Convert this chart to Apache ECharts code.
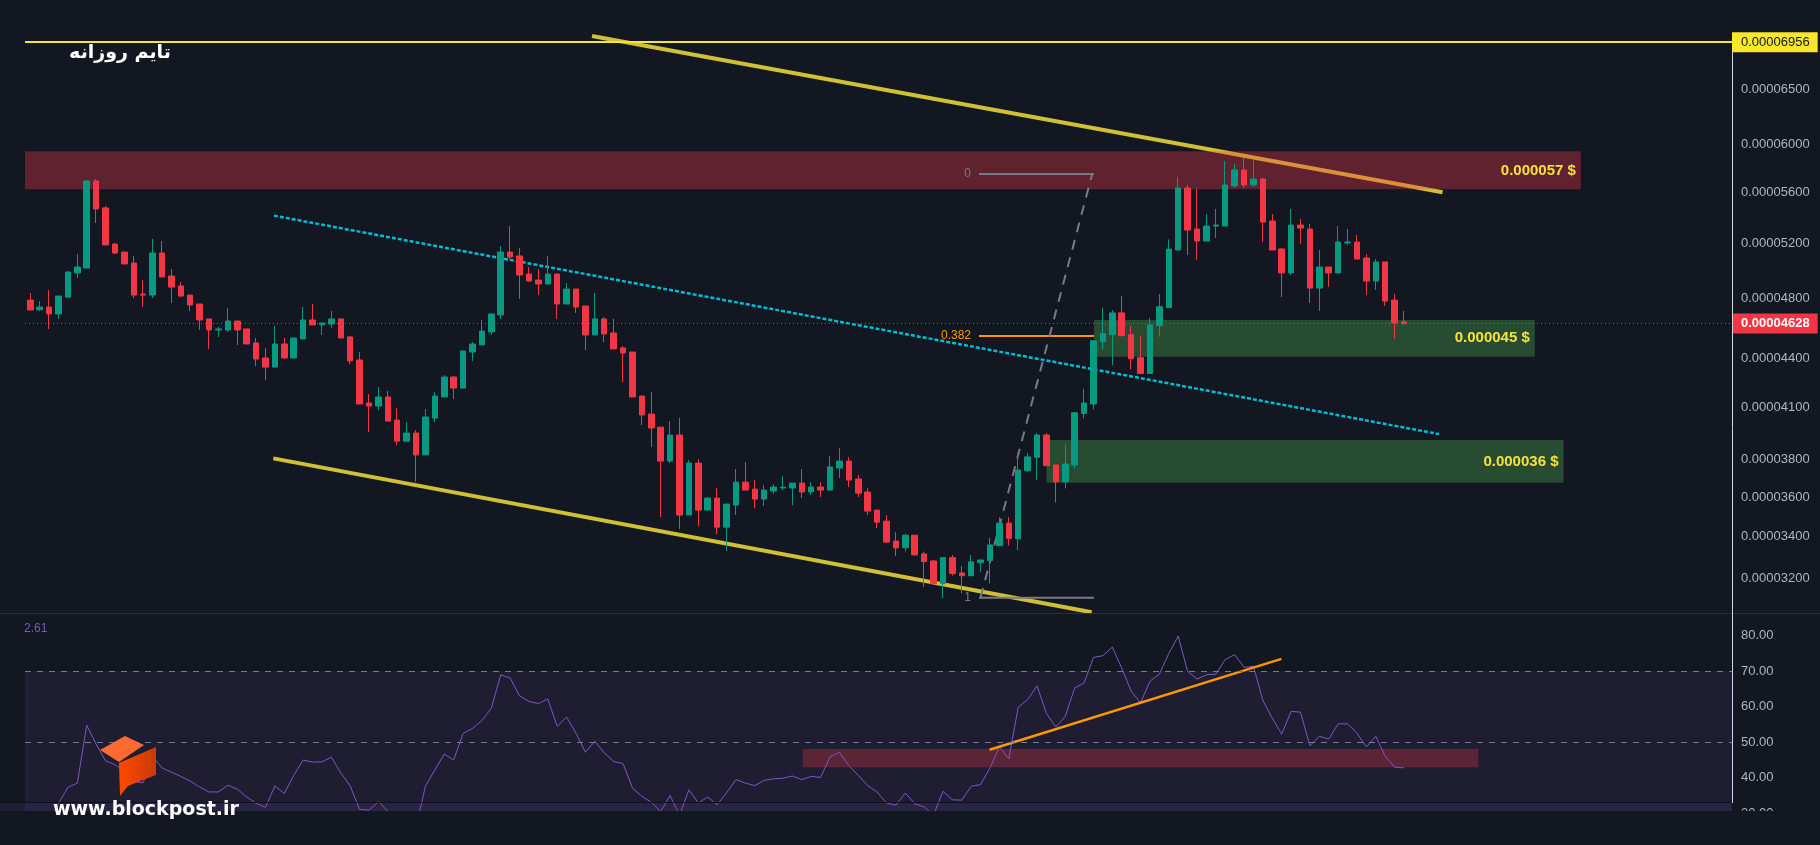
<!DOCTYPE html>
<html>
<head>
<meta charset="utf-8">
<title>تایم روزانه</title>
<style>
  html, body { margin: 0; padding: 0; background: #131722; }
  #main { width: 1820px; height: 845px; }
</style>
</head>
<body>
<div id="main"></div>
<script src="https://cdn.jsdelivr.net/npm/echarts@6.0.0/dist/echarts.min.js"></script>
<script>
// daily candles, prices in units of 1e-8
var openP = [4788,4722,4740,4693,4809,4980,5015,5690,5472,5193,
  5133,5052,4830,4823,5126,4958,4887,4823,4761,4659,
  4585,4585,4645,4592,4500,4403,4345,4493,4403,4526,
  4652,4619,4625,4659,4539,4390,4125,4107,4161,4024,
  3903,3949,3826,4036,4161,4283,4215,4441,4487,4572,
  4686,5133,5104,4972,4929,4901,4972,4761,4865,4747,
  4552,4659,4565,4467,4441,4167,4059,3983,3792,3938,
  3507,3781,3532,3594,3446,3558,3678,3641,3589,3631,
  3647,3647,3673,3626,3652,3636,3754,3792,3695,3626,
  3532,3476,3377,3345,3406,3315,3281,3175,3297,3225,
  3212,3273,3283,3355,3466,3388,3739,3813,3938,3771,
  3680,3771,4063,4119,4508,4554,4700,4554,4405,4305,
  4614,4736,5148,5632,5307,5216,5330,5330,5649,5781,
  5657,5706,5369,5156,4980,5338,5307,4872,5023,4980,
  5201,5208,5089,4922,5060,4788,4639];
var closeP = [4720,4740,4693,4816,4987,5023,5690,5464,5186,5126,
  5045,4823,4823,5126,4951,4879,4816,4754,4652,4585,
  4592,4645,4585,4493,4396,4345,4493,4403,4532,4652,
  4619,4632,4659,4532,4384,4119,4107,4161,4018,3903,
  3949,3826,4042,4167,4283,4215,4448,4493,4578,4693,
  5133,5096,4965,4922,4901,4972,4761,4865,4740,4552,
  4659,4559,4461,4435,4161,4054,3978,3792,3938,3507,
  3781,3532,3594,3446,3563,3678,3636,3589,3636,3652,
  3652,3673,3626,3652,3636,3760,3792,3689,3620,3527,
  3471,3372,3344,3406,3310,3278,3175,3297,3222,3212,
  3277,3286,3358,3466,3390,3743,3815,3938,3767,3680,
  3776,4067,4125,4514,4561,4700,4548,4398,4305,4619,
  4742,5155,5632,5299,5216,5330,5338,5657,5781,5657,
  5706,5361,5148,4980,5338,5315,4872,5023,4980,5208,
  5208,5081,4922,5060,4781,4632,4628];
var lowP = [4720,4713,4592,4659,4809,4943,5015,5354,5186,5118,
  5045,4802,4740,4802,4951,4768,4809,4713,4585,4461,
  4539,4572,4487,4493,4352,4264,4345,4396,4403,4526,
  4619,4552,4599,4532,4364,4119,3955,4083,4018,3881,
  3903,3678,3826,4012,4161,4149,4215,4384,4487,4552,
  4659,5081,4795,4915,4823,4901,4659,4761,4700,4454,
  4552,4506,4461,4252,4161,3995,3870,3496,3781,3436,
  3507,3451,3532,3411,3329,3507,3636,3542,3553,3615,
  3636,3558,3594,3610,3600,3636,3700,3652,3600,3507,
  3441,3372,3305,3326,3310,3160,3175,3109,3212,3131,
  3209,3230,3175,3355,3355,3333,3734,3691,3767,3572,
  3645,3752,4034,4087,4454,4358,4541,4330,4305,4305,
  4541,4736,5148,5111,5074,5216,5238,5330,5632,5632,
  5641,5208,5148,4809,4965,5193,4768,4713,4879,4980,
  5186,5081,4823,4858,4747,4526,4619];
var highP = [4837,4781,4858,4816,4994,5118,5698,5706,5488,5201,
  5133,5104,4929,5231,5216,5008,4915,4823,4761,4659,
  4605,4734,4645,4592,4532,4467,4612,4532,4532,4740,
  4761,4632,4713,4659,4545,4441,4179,4221,4197,4095,
  4012,3966,4089,4191,4295,4289,4448,4506,4652,4693,
  5178,5330,5163,5023,5008,5104,4972,4908,4865,4747,
  4837,4672,4659,4480,4441,4167,4191,3983,4018,4036,
  3798,3803,3600,3647,3563,3749,3787,3689,3662,3668,
  3711,3673,3749,3678,3678,3820,3864,3814,3716,3647,
  3532,3507,3421,3413,3406,3326,3287,3297,3310,3258,
  3310,3287,3393,3496,3496,3836,3836,3949,3949,3771,
  3887,4067,4211,4514,4736,4720,4816,4612,4545,4665,
  4830,5228,5720,5657,5624,5424,5464,5857,5832,5891,
  5866,5715,5424,5163,5464,5385,5346,5148,5023,5330,
  5307,5261,5118,5081,5060,4830,4713];
var rsiVals = [29,29,27,32.8,37.3,38.5,54.8,49.5,44.8,43.7,
  42,38.9,38.6,46,42.8,41.6,40.4,39.1,37.4,36,
  36,37.9,36.8,34.6,32.8,31.7,37.7,35.6,40.7,45,
  44.4,44.5,45.8,41.4,37.7,31.1,30.9,33.3,30.6,27,
  29,26,37.7,42.2,46.7,45,52.5,53.9,56.1,59.6,
  69,68.1,63.1,61.5,60.9,62.2,54.5,57.1,52.6,47.2,
  50.3,47,44.6,44,37.1,34.8,33.1,30.5,35,29.5,
  36.6,32.9,34.6,32.4,35.8,39.5,38.5,37.8,39.3,39.7,
  39.9,40.5,39.5,40.4,40.1,45.9,47.2,43.4,40.7,37.8,
  36,32.9,32.3,35.7,32.7,31.8,29.5,36.2,33.8,33.7,
  37.6,38.1,42.8,48.7,45.3,59.9,62,65.9,58.1,54.3,
  57.3,65.3,66.7,73.9,74.4,76.8,70.9,64.4,61.1,67.2,
  69.2,75,79.9,70,67.8,69,69.2,73.3,74.7,71.1,
  71.4,61.8,56.8,52.3,58.7,58.5,49,51.7,50.9,55.2,
  55.2,52.6,48.7,51.7,46.1,43,42.8];

var priceTicks = [3200,3400,3600,3800,4100,4400,4800,5200,5600,6000,6500];
var rsiTicks = [30,40,50,60,70,80];
var highLine = 6956;
var lastPrice = 4628;

// zones [low, high] and fib levels
var zoneRed = [5621, 5939];
var zoneGreen1 = [4411, 4652];
var zoneGreen2 = [3675, 3909];
var fibLevels = [5748, 4546, 3111];

var xMin = -0.56, xMax = 180.86;
var candles = openP.map(function (o, i) { return [i, o, closeP[i], lowP[i], highP[i]]; });
var rsiData = rsiVals.map(function (v, i) { return [i, v]; });

function fmt(v) { return '0.0000' + v; }

function seg(points, color, width, type, z, gi) {
  return {
    type: 'line', xAxisIndex: gi || 0, yAxisIndex: gi || 0, z: z,
    symbol: 'circle', symbolSize: 0, silent: true,
    data: points,
    lineStyle: { color: color, width: width, type: type }
  };
}

function fibPoint(x, y, text, color) {
  return { value: [x, y], label: { show: true, formatter: text, position: 'left', distance: 8, color: color, fontSize: 12 } };
}

var zoneLabel = { show: true, position: 'insideRight', distance: 5, color: '#f5e23c', fontWeight: 'bold', fontSize: 15, fontFamily: 'Liberation Sans' };

var myChart = echarts.init(document.getElementById('main'));

var option = {
  backgroundColor: '#131722',
  animation: false,
  textStyle: { fontFamily: 'Liberation Sans' },
  grid: [
    { left: 25, right: 88, top: 0, height: 613 },
    { left: 25, right: 88, top: 613, height: 232 }
  ],
  xAxis: [
    { gridIndex: 0, type: 'value', min: xMin, max: xMax, show: false },
    { gridIndex: 1, type: 'value', min: xMin, max: xMax, show: false }
  ],
  yAxis: [
    { gridIndex: 0, type: 'log', logBase: 10, min: 3043, max: 7395, position: 'right',
      axisLine: { show: false }, axisTick: { show: false }, axisLabel: { show: false }, splitLine: { show: false } },
    { gridIndex: 1, type: 'value', min: 21.07, max: 86.42, position: 'right',
      axisLine: { show: false }, axisTick: { show: false }, splitLine: { show: false },
      axisLabel: { customValues: rsiTicks, formatter: function (v) { return v.toFixed(2); },
        color: '#b2b5be', fontSize: 13, margin: 9 } }
  ],
  graphic: [
    { type: 'rect', shape: { x: 0, y: 803, width: 1732, height: 8 }, style: { fill: '#1f1f33' }, z: 0 },
    { type: 'line', shape: { x1: 0, y1: 613.5, x2: 1820, y2: 613.5 }, style: { stroke: '#2a2e39', lineWidth: 1 }, z: 10 },
    { type: 'line', shape: { x1: 0, y1: 802.5, x2: 1732, y2: 802.5 }, style: { stroke: '#0e1017', lineWidth: 1 }, z: 10 },
    { type: 'line', shape: { x1: 1732.5, y1: 52, x2: 1732.5, y2: 803 }, style: { stroke: '#d1d4dc', lineWidth: 1 }, z: 10 },
    { type: 'rect', shape: { x: 0, y: 811, width: 1820, height: 34 }, style: { fill: '#131722' }, z: 100 },
    { type: 'text', x: 120, y: 53, z: 101,
      style: { text: 'تایم روزانه', fill: '#ffffff', font: 'bold 19px "DejaVu Sans"', align: 'center', verticalAlign: 'middle' } },
    { type: 'text', x: 24, y: 629, z: 101,
      style: { text: '2.61', fill: '#7e57c2', font: '12px "Liberation Sans"', verticalAlign: 'middle' } },
    { type: 'polygon', z: 101, shape: { points: [[100, 750], [125, 736], [144, 745], [119, 762]] },
      style: { fill: '#ff6b2e' } },
    { type: 'polygon', z: 101, shape: { points: [[119, 763], [156, 747], [156, 775], [128, 786], [120, 796]] },
      style: { fill: new echarts.graphic.LinearGradient(0, 0, 1, 0, [{ offset: 0, color: '#ff4a00' }, { offset: 1, color: '#c93a04' }]) } },
    { type: 'text', x: 53, y: 810, z: 101,
      style: { text: 'www.blockpost.ir', fill: '#ffffff', font: 'bold 19px "DejaVu Sans"', verticalAlign: 'middle',
        shadowColor: 'rgba(120,120,120,0.8)', shadowBlur: 2 } }
  ],
  series: [
    // channel lines
    seg([[59.7, 7020], [150.1, 5597]], 'rgba(255,235,59,0.8)', 4, 'solid', 2),
    seg([[25.83, 3807], [112.8, 3046]], 'rgba(255,235,59,0.8)', 4, 'solid', 2),
    seg([[25.9, 5411], [149.75, 3943]], '#00bcd4', 2.5, [4, 2], 2),
    // supply / demand zones
    {
      type: 'line', data: [], xAxisIndex: 0, yAxisIndex: 0,
      markArea: {
        silent: true, z: 3,
        data: [
          [{ name: '0.000057 $', coord: [xMin, zoneRed[1]], itemStyle: { color: 'rgba(242,54,69,0.35)' }, label: zoneLabel },
           { coord: [164.8, zoneRed[0]] }],
          [{ name: '0.000045 $', coord: [113.06, zoneGreen1[1]], itemStyle: { color: 'rgba(76,175,80,0.35)' }, label: zoneLabel },
           { coord: [159.9, zoneGreen1[0]] }],
          [{ name: '0.000036 $', coord: [108.0, zoneGreen2[1]], itemStyle: { color: 'rgba(76,175,80,0.35)' }, label: zoneLabel },
           { coord: [162.95, zoneGreen2[0]] }]
        ]
      }
    },
    // fibonacci retracement
    seg([fibPoint(100.83, fibLevels[0], '0', '#787b86'), [113.05, fibLevels[0]]], '#787b86', 2, 'solid', 3),
    seg([fibPoint(100.83, fibLevels[1], '0.382', '#ff9800'), [113.05, fibLevels[1]]], '#ff9800', 2, 'solid', 3),
    seg([fibPoint(100.83, fibLevels[2], '1', '#787b86'), [113.05, fibLevels[2]]], '#787b86', 2, 'solid', 3),
    seg([[100.99, fibLevels[2]], [112.86, fibLevels[0]]], '#787b86', 2, [10, 8], 3),
    {
      type: 'candlestick', xAxisIndex: 0, yAxisIndex: 0, z: 4,
      data: candles, encode: { x: 0, y: [1, 2, 3, 4] },
      barWidth: 6,
      itemStyle: { color: '#089981', color0: '#f23645', borderColor: '#089981', borderColor0: '#f23645', borderWidth: 1 },
      markLine: {
        silent: true, symbol: ['none', 'none'],
        label: { position: 'end', fontSize: 13 },
        data: priceTicks.map(function (v) {
          return { yAxis: v, lineStyle: { color: 'rgba(0,0,0,0)', width: 0 },
            label: { show: true, formatter: fmt(v), color: '#b2b5be', distance: 9 } };
        }).concat([
          { yAxis: highLine, lineStyle: { color: '#f7e52e', width: 2, type: 'solid' },
            label: { formatter: fmt(highLine), color: '#131722', backgroundColor: '#f7e52e', padding: [4, 8, 3, 9], distance: 0 } },
          { yAxis: lastPrice, lineStyle: { color: '#f23645', width: 1, type: [1, 3] },
            label: { formatter: fmt(lastPrice), color: '#ffffff', fontWeight: 'bold', backgroundColor: '#f23645', padding: [4, 8, 3, 9], distance: 0 } }
        ])
      }
    },
    // RSI
    {
      type: 'line', xAxisIndex: 1, yAxisIndex: 1, z: 2,
      data: rsiData, symbol: 'none',
      lineStyle: { color: '#7e57c2', width: 1 },
      markArea: {
        silent: true, z: 1,
        data: [
          [{ coord: [xMin, 70], itemStyle: { color: 'rgba(126,87,194,0.1)' } }, { coord: [xMax, 30] }],
          [{ coord: [82.1, 48.1], itemStyle: { color: 'rgba(242,54,69,0.3)' } }, { coord: [153.9, 43.0] }]
        ]
      },
      markLine: {
        silent: true, symbol: ['none', 'none'], label: { show: false },
        lineStyle: { color: '#787b86', width: 1, type: [6, 6] },
        data: [{ yAxis: 70 }, { yAxis: 50 }, { yAxis: 30 }]
      }
    },
    seg([[101.96, 47.9], [132.97, 73.5]], '#ff9800', 2.5, 'solid', 3, 1)
  ]
};

myChart.setOption(option);
</script>
</body>
</html>
